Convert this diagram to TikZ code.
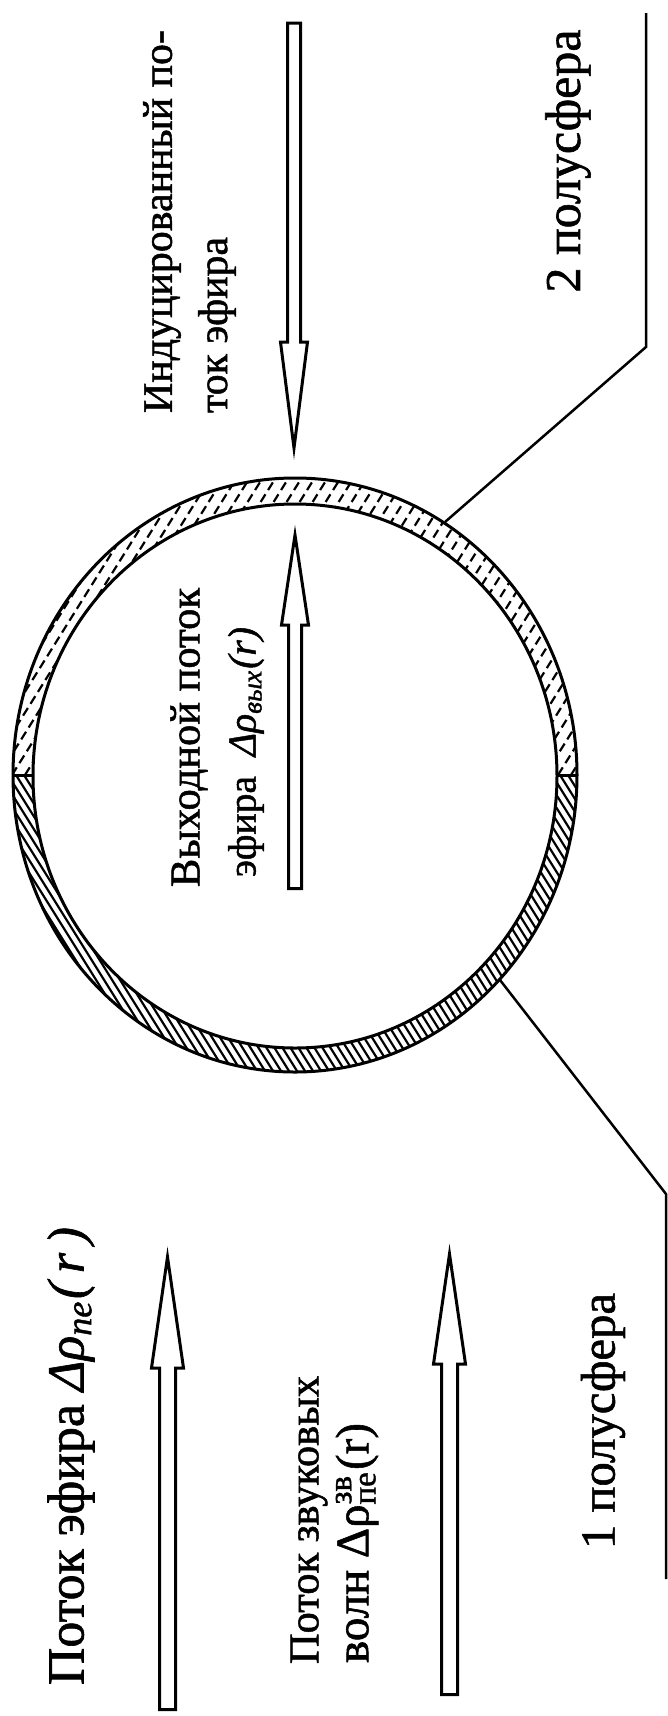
\documentclass[tikz,border=0pt]{standalone}
\usepackage{fontspec}
\setmainfont{Liberation Serif}[FakeBold=1.2]
\begin{document}
\begin{tikzpicture}[x=1pt,y=-1pt,
  outl/.style={line width=3pt},
  arrowbox/.style={line width=3pt, line join=miter, fill=white},
  leader/.style={line width=2.5pt},
  lbl/.style={rotate=90, inner sep=0pt, anchor=center}]
\useasboundingbox (0,0) rectangle (667,1716);
\fill[white] (0,0) rectangle (667,1716);

% ---- ring hatching: lower half (hemisphere 1)
\begin{scope}
  \clip (295,775) ellipse [x radius=282pt, y radius=297pt];
  \clip (0,775) rectangle (667,1100);
  \foreach \s in {-320,-312,...,700} \draw[line width=2.2pt] (\s,775) -- ++(300,480);
\end{scope}
% ---- ring hatching: upper half (hemisphere 2)
\begin{scope}
  \clip (295,775) ellipse [x radius=282pt, y radius=297pt];
  \clip (0,400) rectangle (667,775);
  \foreach \s in {-300,-287,...,760} \draw[line width=2.2pt, dash pattern=on 9pt off 5pt] (\s,775) -- ++(300,-480);
\end{scope}
\fill[white] (295,776) ellipse [x radius=262pt, y radius=272pt];
\draw[outl] (295,775) ellipse [x radius=282pt, y radius=297pt];
\draw[outl] (295,776) ellipse [x radius=262pt, y radius=272pt];
\draw[outl] (13,775) -- (33,775);
\draw[outl] (557,775) -- (577,775);

% ---- leader lines
\coordinate (c2) at (445,522);
\coordinate (b2) at (646,347);
\coordinate (e2) at (646,13);
\coordinate (c1) at (500,980);
\coordinate (b1) at (666,1194);
\coordinate (e1) at (666,1579);
\draw[leader, line join=miter] (c2) -- (b2) -- (e2);
\draw[leader, line join=miter] (c1) -- (b1) -- (e1);

% ---- block arrows
% induced flow (down)
\draw[arrowbox] (287.5,23) -- (300.5,23) -- (300.5,342) -- (307.5,342) -- (294,448)
  -- (280.5,342) -- (287.5,342) -- cycle;
% output flow (up, inside sphere)
\draw[arrowbox] (288.5,888.5) -- (301.5,888.5) -- (301.5,625) -- (308.5,625) -- (295,535)
  -- (281.5,625) -- (288.5,625) -- cycle;
% ether flow (up)
\draw[arrowbox] (159.5,1709.5) -- (175.5,1709.5) -- (175.5,1368) -- (183.5,1368) -- (167.5,1257)
  -- (151.5,1368) -- (159.5,1368) -- cycle;
% sound waves flow (up)
\draw[arrowbox] (441.5,1694.5) -- (457.5,1694.5) -- (457.5,1364) -- (465.5,1364) -- (449.5,1254)
  -- (433.5,1364) -- (441.5,1364) -- cycle;

% ---- labels
\node[lbl] (t1) at (71,1456) {\resizebox{458pt}{!}{Поток эфира {\itshape Δρ\textsubscript{пе}(\,r\,)}}};
\node[lbl] (t2a) at (309,1520) {\resizebox{288pt}{!}{Поток звуковых}};
\node[lbl] (t2b) at (357,1543) {\resizebox{240pt}{!}{волн Δρ\rlap{\textsuperscript{зв}}\textsubscript{пе}(r)}};
\node[lbl] (t3) at (603,1421) {\resizebox{256pt}{!}{1 полусфера}};
\node[lbl] (t4) at (568,161) {\resizebox{263pt}{!}{2 полусфера}};
\node[lbl] (t5) at (162,221.5) {\resizebox{383pt}{!}{Индуцированный по-}};
\node[lbl] (t6) at (217,325) {\resizebox{176pt}{!}{ток эфира}};
\node[lbl] (t7) at (189,737.5) {\resizebox{299pt}{!}{Выходной поток}};
\node[lbl] (t8) at (246,752) {\resizebox{250pt}{!}{эфира\enspace{\itshape Δρ\textsubscript{вых}(r)}}};
\end{tikzpicture}
\end{document}
